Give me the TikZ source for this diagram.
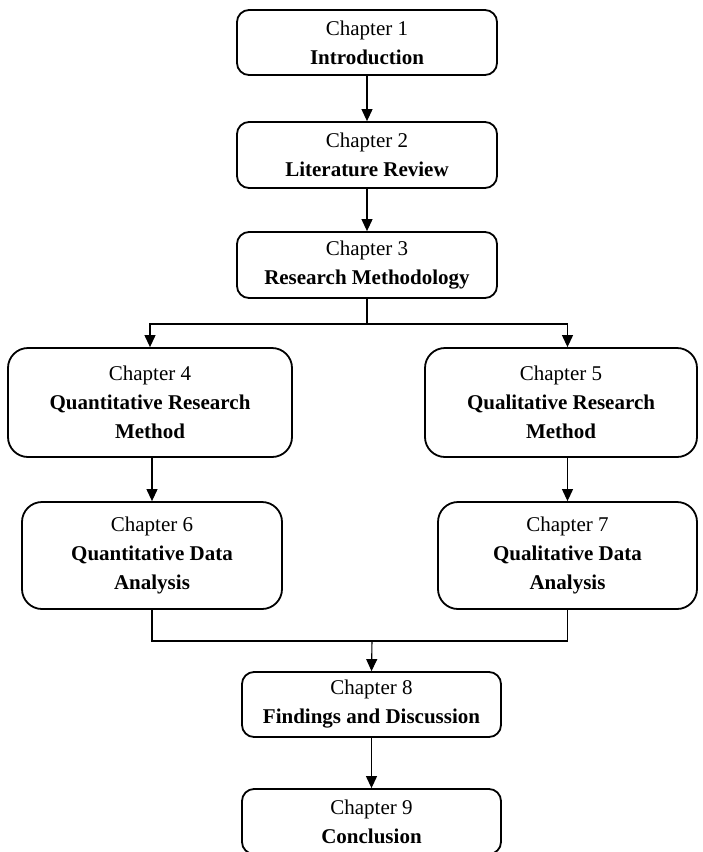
\documentclass[tikz,border=0pt]{standalone}
\usepackage{fontspec}
\setmainfont{Liberation Serif}
\usepackage{tikz}
\usetikzlibrary{arrows.meta}

\begin{document}
\begin{tikzpicture}[x=1pt,y=1pt]
\tikzset{chap/.style={draw,line width=1.8pt,rounded corners=12pt,align=center,inner sep=0pt,font=\fontsize{21}{29}\selectfont},
wide/.style={chap,rounded corners=20pt},
arr/.style={line width=1.1pt,-{Triangle[width=11pt,length=12pt]}}}
\useasboundingbox (0,0) rectangle (702,-852);
\node[chap,minimum width=260pt,minimum height=65pt] (c1) at (367,-42.5) {Chapter 1\\\textbf{Introduction}};
\node[chap,minimum width=260pt,minimum height=66pt] (c2) at (367,-155) {Chapter 2\\\textbf{Literature Review}};
\node[chap,minimum width=260pt,minimum height=66pt] (c3) at (367,-265) {Chapter 3\\\textbf{Research Methodology}};
\node[wide,minimum width=284pt,minimum height=109pt] (c4) at (150,-402.5) {Chapter 4\\\textbf{Quantitative Research}\\\textbf{Method}};
\node[wide,minimum width=272pt,minimum height=109pt] (c5) at (561,-402.5) {Chapter 5\\\textbf{Qualitative Research}\\\textbf{Method}};
\node[wide,minimum width=260pt,minimum height=107pt] (c6) at (152,-555.5) {Chapter 6\\\textbf{Quantitative Data}\\\textbf{Analysis}};
\node[wide,minimum width=259pt,minimum height=107pt] (c7) at (567.5,-555.5) {Chapter 7\\\textbf{Qualitative Data}\\\textbf{Analysis}};
\node[chap,minimum width=259pt,minimum height=65pt] (c8) at (371.5,-704.5) {Chapter 8\\\textbf{Findings and Discussion}};
\node[chap,minimum width=259pt,minimum height=65pt] (c9) at (371.5,-821.5) {Chapter 9\\\textbf{Conclusion}};
\coordinate (split) at (368,-324);
\coordinate (merge) at (372,-641);
%\draw the links
\draw[arr] (c1) -- (c2);
\draw[arr] (c2) -- (c3);
\draw[line width=1.1pt] (c3.south) -- (c3.south |- split);
\draw[arr] (c3.south |- split) -| (c4.north);
\draw[arr] (c3.south |- split) -| (c7.north |- c5.north);
\draw[arr] (c6.north |- c4.south) -- (c6.north);
\draw[arr] (c7.north |- c5.south) -- (c7.north);
\draw[line width=1.1pt] (c6.south) |- (merge) -| (c7.south);
\draw[arr] (merge) -- (c8.north);
\draw[arr] (c8) -- (c9);
\end{tikzpicture}
\end{document}
